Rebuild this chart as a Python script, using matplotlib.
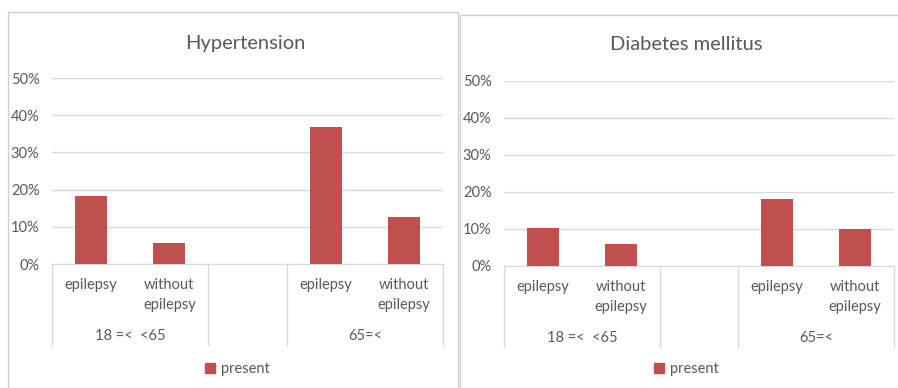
import numpy as np
import matplotlib
matplotlib.use("Agg")
import matplotlib.pyplot as plt
import matplotlib.transforms as mtransforms
from matplotlib.patches import Rectangle, Patch

plt.rcParams['font.family'] = ['Lato', 'DejaVu Sans']

# data (percent), blank slot separates the two age groups
categories = ["epilepsy", "without\nepilepsy", "", "epilepsy", "without\nepilepsy"]
groups = ["18 =<  <65", "65=<"]
hypertension = [18.3, 5.7, np.nan, 36.7, 12.7]
diabetes = [10.2, 5.8, np.nan, 17.9, 10.0]
yticks = [0, 10, 20, 30, 40, 50]

W, H = 898, 388
RED = "#C0504D"
TXT = "#595959"
GRID = "#D9D9D9"

fig = plt.figure(figsize=(W / 100, H / 100), dpi=100)


def fy(py):
    return 1 - py / H


def panel(x0, x1, y0, y50, values, title, title_x, legend_x, box):
    ax = fig.add_axes([x0 / W, fy(y0), (x1 - x0) / W, (y0 - y50) / H])
    x = np.arange(len(categories))
    ax.bar(x, values, width=0.41, color=RED, zorder=3)
    ax.set_xlim(-0.5, len(categories) - 0.5)
    ax.set_ylim(0, 50)
    ax.set_yticks(yticks)
    ax.set_yticklabels([f"{v}%" for v in yticks], color=TXT, fontsize=10.5)
    ax.tick_params(axis="y", length=0, pad=9)
    ax.set_xticks([])
    ax.grid(axis="y", color=GRID, lw=1, zorder=0)
    for s in ["top", "right", "left"]:
        ax.spines[s].set_visible(False)
    ax.spines["bottom"].set_color(GRID)

    tr = mtransforms.blended_transform_factory(ax.transData, fig.transFigure)
    for i, lab in enumerate(categories):
        ax.text(i, fy(y0 + 14), lab, transform=tr, ha="center", va="top",
                color=TXT, fontsize=10.5, linespacing=1.55)
    # group labels and separators
    ax.text(0.5, fy(y0 + 65), groups[0], transform=tr, ha="center", va="top",
            color=TXT, fontsize=10.5)
    ax.text(3.5, fy(y0 + 65), groups[1], transform=tr, ha="center", va="top",
            color=TXT, fontsize=10.5)
    for sx in [-0.5, 1.5, 2.5, 4.5]:
        ax.plot([sx, sx], [fy(y0), fy(y0 + 81)], transform=tr, color=GRID,
                lw=1, clip_on=False)

    fig.text(title_x / W, fy(44), title, ha="center", va="center",
             color=TXT, fontsize=14.5)
    fig.legend(handles=[Patch(color=RED, label="present")],
               loc="center", bbox_to_anchor=(legend_x / W, fy(369)),
               frameon=False, fontsize=10.5, labelcolor=TXT,
               handlelength=0.7, handleheight=0.7, handletextpad=0.4)
    fig.add_artist(Rectangle((box[0] / W, fy(box[3])), (box[2] - box[0]) / W,
                             (box[3] - box[1]) / H, transform=fig.transFigure,
                             fill=False, edgecolor="#D0D0D0", lw=1))
    return ax


panel(52, 443, 264, 78, hypertension, "Hypertension", 245, 237, (8, 12, 458, 400))
panel(504, 894, 265.7, 80.7, diabetes, "Diabetes mellitus", 686, 686, (460, 15, 910, 400))

fig.savefig("out.png", dpi=100, facecolor="white")
